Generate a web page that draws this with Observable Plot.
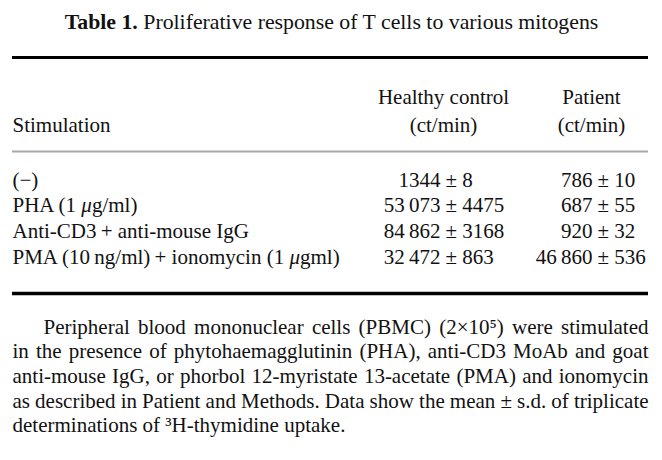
<!DOCTYPE html>
<html><head><meta charset="utf-8">
<script src="https://cdn.jsdelivr.net/npm/d3@7"></script>
<script src="https://cdn.jsdelivr.net/npm/@observablehq/plot@0.6"></script>
<style>html,body{margin:0;padding:0;background:#fff;} #chart{width:662px;height:460px;}</style>
</head><body><div id="chart"></div>
<script>
// ---- data ----
const titleLabel = "Table 1.";
const titleText = "Proliferative response of T cells to various mitogens";
const rowHeader = "Stimulation";
const groups = ["Healthy control", "Patient"];
const unit = "(ct/min)";
const stimulation = [
  "(\u2212)",
  "PHA (1 \u03bcg/ml)",
  "Anti-CD3\u2009+ anti-mouse IgG",
  "PMA (10\u2009ng/ml)\u2009+ ionomycin (1 \u03bcgml)"
];
const controlMean = [1344, 53073, 84862, 32472];
const controlSD = [8, 4475, 3168, 863];
const patientMean = [786, 687, 920, 46860];
const patientSD = [10, 55, 32, 536];
const captionLines = [
  "Peripheral blood mononuclear cells (PBMC) (2\u00d710\u2075) were stimulated",
  "in the presence of phytohaemagglutinin (PHA), anti-CD3 MoAb and goat",
  "anti-mouse IgG, or phorbol 12-myristate 13-acetate (PMA) and ionomycin",
  "as described in Patient and Methods. Data show the mean \u00b1 s.d. of triplicate",
  "determinations of \u00b3H-thymidine uptake."
];

// ---- layout ----
const W = 662, H = 460, FS = 21;
const L = {left: 12, right: 648, titleX: 331, titleY: 28, topRule: 57, head1: 103, head2: 131,
  midRule: 151, row0: 186, rowStep: 25.8, botRule: 293, cap0: 333, capStep: 24.7, capIndent: 43,
  pm: [445, 597], colCenter: [443, 591]};

const fmt = n => n >= 10000 ? d3.format(",")(n).replace(/,/g, "\u2009") : String(n);
const rows = stimulation.map((s, i) => ({s, i, cm: controlMean[i], cs: controlSD[i], pmn: patientMean[i], ps: patientSD[i]}));
const rowY = (d) => L.row0 + d.i * L.rowStep;
const caps = captionLines.map((t, i) => ({t, i}));

const txt = {lineAnchor: "bottom", fontSize: FS, fill: "#111"};

const plot = Plot.plot({
  width: W, height: H, margin: 0,
  x: {type: "linear", domain: [0, W], range: [0, W], axis: null},
  y: {type: "linear", domain: [0, H], range: [0, H], axis: null},
  style: {fontFamily: "'Liberation Serif', 'Times New Roman', serif", background: "#fff"},
  marks: [
    Plot.ruleY([L.topRule], {x1: L.left, x2: L.right, stroke: "#000", strokeWidth: 3}),
    Plot.ruleY([L.midRule], {x1: L.left, x2: L.right, stroke: "#a8a8a8", strokeWidth: 2}),
    Plot.ruleY([L.botRule], {x1: L.left, x2: L.right, stroke: "#000", strokeWidth: 3.5}),
    Plot.text([titleLabel + " " + titleText], {...txt, fontSize: 21.8, ariaDescription: "title", x: L.titleX, y: L.titleY, text: d => d, textAnchor: "middle"}),
    Plot.text([rowHeader], {...txt, x: L.left, y: L.head2, text: d => d, textAnchor: "start"}),
    Plot.text(groups, {...txt, x: (d, i) => L.colCenter[i], y: L.head1, text: d => d, textAnchor: "middle"}),
    Plot.text(groups, {...txt, x: (d, i) => L.colCenter[i], y: L.head2, text: () => unit, textAnchor: "middle"}),
    Plot.text(rows, {...txt, ariaDescription: "stim", x: L.left, y: rowY, text: d => d.s, textAnchor: "start"}),
    Plot.text(rows, {...txt, x: L.pm[0] - 5, y: rowY, text: d => fmt(d.cm), textAnchor: "end"}),
    Plot.text(rows, {...txt, x: L.pm[0], y: rowY, text: d => "\u00b1 " + fmt(d.cs), textAnchor: "start"}),
    Plot.text(rows, {...txt, x: L.pm[1] - 5, y: rowY, text: d => fmt(d.pmn), textAnchor: "end"}),
    Plot.text(rows, {...txt, x: L.pm[1], y: rowY, text: d => "\u00b1 " + fmt(d.ps), textAnchor: "start"}),
    Plot.text(caps, {...txt, ariaDescription: "caption", x: d => d.i === 0 ? L.capIndent : L.left,
      y: d => L.cap0 + d.i * L.capStep, text: d => d.t, textAnchor: "start"})
  ]
});
document.getElementById("chart").appendChild(plot);

const svg = d3.select(plot);
const group = (name) => svg.selectAll("g").filter(function() { return this.getAttribute("aria-description") === name; });
// bold label in title
group("title").selectAll("text").each(function() {
  const t = d3.select(this); const full = t.text(); t.text("");
  t.append("tspan").attr("font-weight", "bold").text(titleLabel);
  t.append("tspan").text(full.slice(titleLabel.length));
});
// italic mu
group("stim").selectAll("text").each(function() {
  const t = d3.select(this); const full = t.text();
  if (!full.includes("\u03bc")) return;
  t.text("");
  full.split(/(\u03bc)/).forEach(p => { if (p) t.append("tspan").attr("font-style", p === "\u03bc" ? "italic" : null).text(p); });
});
// justify caption lines (all but last)
group("caption").selectAll("text").each(function(d, k) {
  if (k === captionLines.length - 1) return;
  const x0 = k === 0 ? L.capIndent : L.left;
  const target = L.right - x0;
  const natural = this.getComputedTextLength();
  const spaces = (captionLines[k].match(/ /g) || []).length;
  if (spaces) d3.select(this).attr("word-spacing", ((target - natural) / spaces).toFixed(2));
});
</script></body></html>
